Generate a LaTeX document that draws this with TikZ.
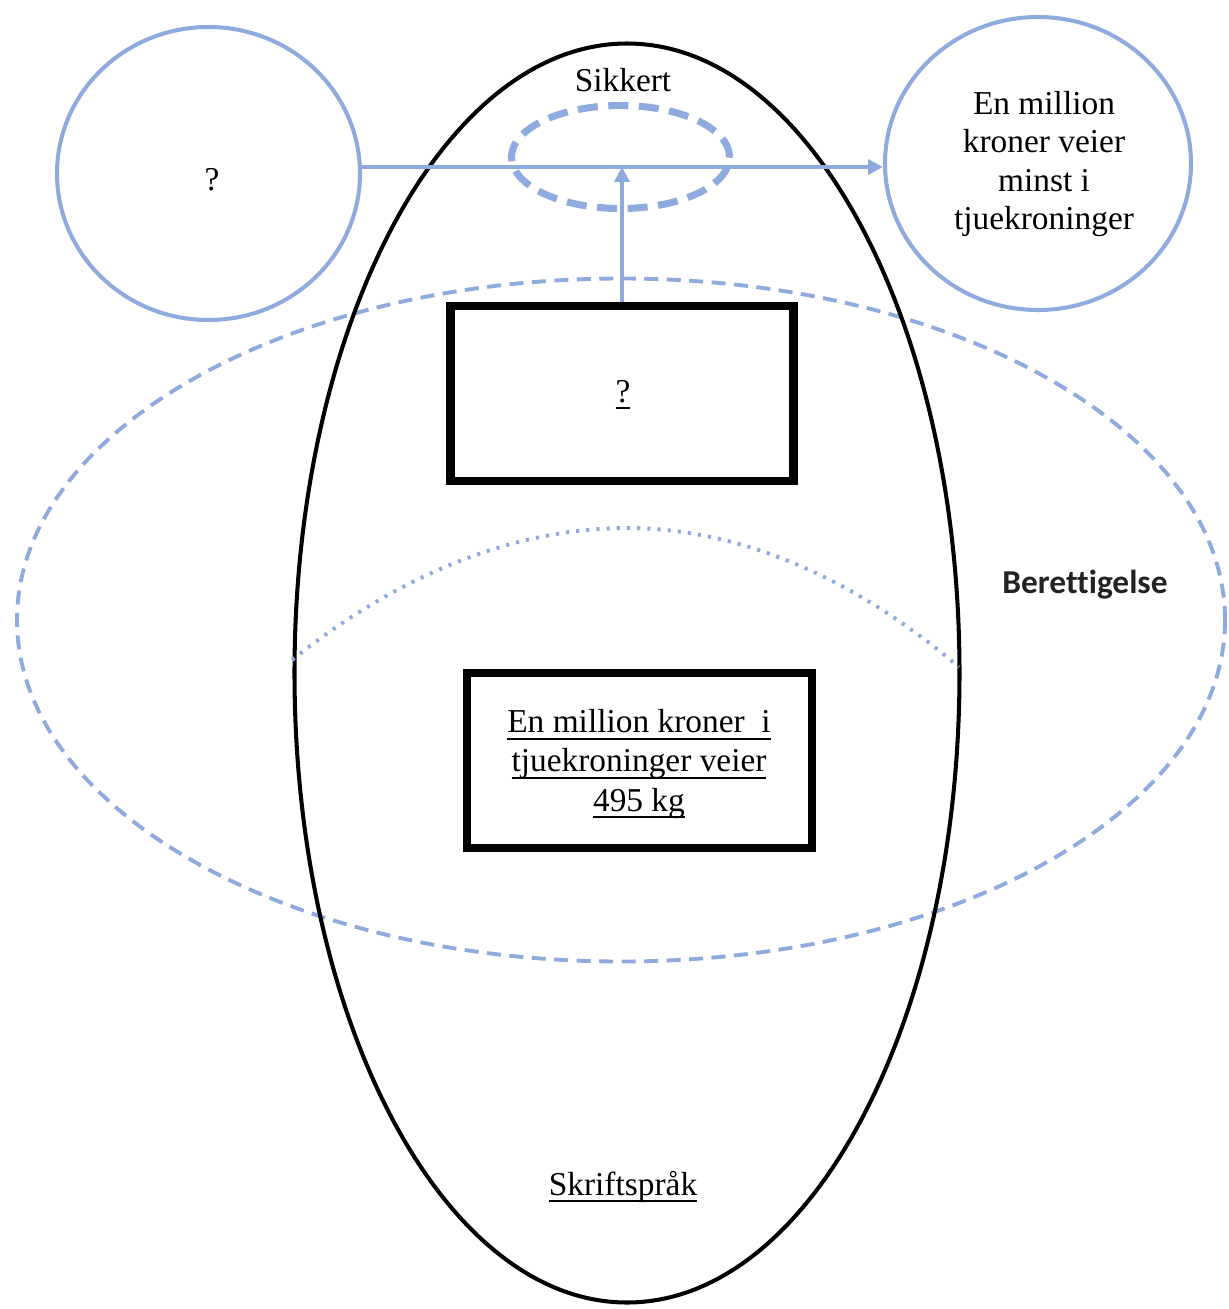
\documentclass[tikz,border=0pt]{standalone}
\usepackage{fontspec}
\setmainfont{Liberation Serif}
\newfontfamily\calib[Ligatures=NoCommon]{Carlito}
\usetikzlibrary{shapes.geometric,arrows.meta}
\definecolor{lblue}{RGB}{143,170,220}
\definecolor{labelgrey}{RGB}{34,34,34}
% underline at a fixed depth below the baseline
\newcommand\myuline[1]{\setbox0\hbox{#1}\rlap{\rule[-1.9pt]{\wd0}{0.6pt}}\box0}
\tikzset{
  txt/.style={font=\fontsize{9.5}{10.9}\selectfont, align=center, inner sep=0pt},
  bluering/.style={ellipse, draw=lblue, line width=1.15pt, inner sep=0pt},
  blackbox/.style={rectangle, draw=black, line width=2.3pt, inner sep=0pt, fill=white},
  bigdash/.style={draw=lblue, line width=1.1pt, dash pattern=on 4pt off 2.4pt},
  smalldash/.style={draw=lblue, line width=2pt, dash pattern=on 5.7pt off 3pt},
  link/.style={draw=lblue, line width=1.15pt, -{Triangle[length=4.2pt,width=4.2pt]}},
}
\begin{document}
\begin{tikzpicture}[x=0.1mm,y=-0.1mm]
  \useasboundingbox (0,0) rectangle (1229,1309);
  \fill[white] (0,0) rectangle (1229,1309);

  % the wide dashed region (Berettigelse)
  \node[ellipse, bigdash, minimum width=120.8mm, minimum height=68.3mm, inner sep=0pt] (ber) at (621,620) {};

  % the tall black ellipse (Skriftspraak)
  \node[ellipse, draw=black, line width=1.15pt, minimum width=66.5mm, minimum height=125.9mm, inner sep=0pt] (skr) at (627,673) {};

  % dotted curve across the black ellipse
  \draw[lblue, line width=1.1pt, dash pattern=on 0.9pt off 2pt] (292,660) parabola bend (627,528) (959,667);

  % small dashed ellipse (Sikkert)
  \node[ellipse, smalldash, minimum width=21.8mm, minimum height=10.3mm, inner sep=0pt] (sik) at (620.5,157) {};

  % outer circles
  \node[bluering, minimum width=30.3mm, minimum height=29.3mm] (lc) at (208.5,173.5) {};
  \node[bluering, minimum width=30.6mm, minimum height=29.3mm] (rc) at (1038,163.5) {};

  % boxes
  \node[blackbox, minimum width=34.3mm, minimum height=17.5mm] (qb) at (622,393.5) {};
  \node[blackbox, minimum width=34.5mm, minimum height=17.5mm] (eb) at (639.5,760.5) {};

  % connectors
  \coordinate (hy) at (0,167);
  \path[link] (lc.east |- hy) -- (rc.west |- hy);
  \path[link] (qb.north) -- (qb.north |- hy);

  % labels
  \node[txt] (lq) at (212,180) {?};
  \node[txt] (rtxt) at (1044,164) {En million\\kroner veier\\minst i\\tjuekroninger};
  \node[txt] (sikt) at (623,80) {Sikkert};
  \node[txt] (qq) at (623,395) {\myuline{?}};
  \node[txt, font=\fontsize{9.5}{11.1}\selectfont] (etxt) at (639,764) {\myuline{En million kroner\ \ i}\\\myuline{tjuekroninger veier}\\\myuline{495 kg}};
  \node[txt, font=\calib\bfseries\fontsize{9.5}{11}\selectfont, text=labelgrey] (bert) at (1085,585) {Berettigelse};
  \node[txt] (skt) at (623,1187) {\myuline{Skriftspråk}};
\end{tikzpicture}
\end{document}
